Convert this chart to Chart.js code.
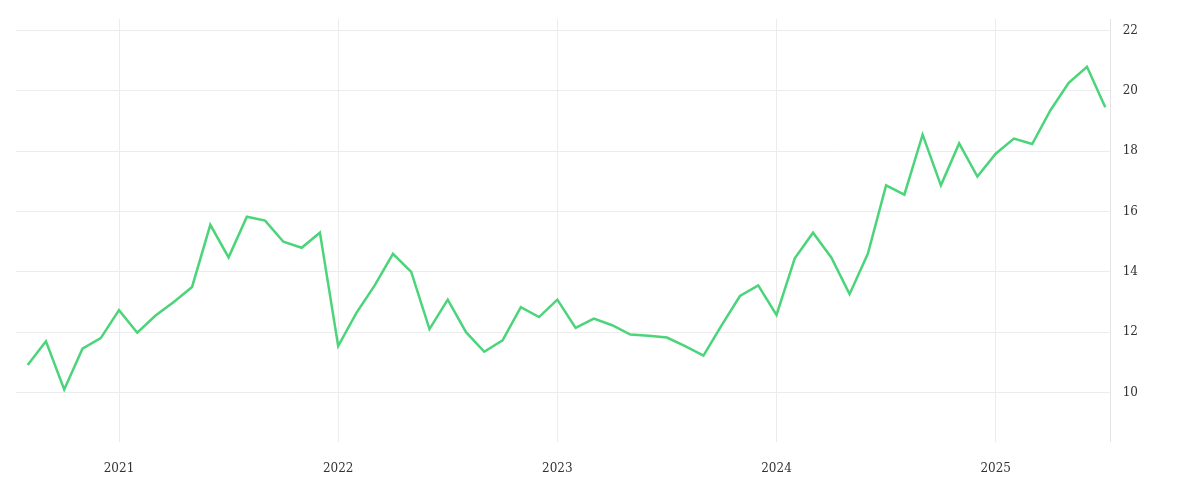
<!DOCTYPE html>
<html>
<head>
<meta charset="utf-8">
<script src="https://cdn.jsdelivr.net/npm/chart.js@4"></script>
<style>
  body { margin: 0; background: #fff; }
  #wrap { width: 1200px; height: 500px; }
</style>
</head>
<body>
<div id="wrap"><canvas id="trendChart"></canvas></div>
<script>
// months relative to Jan 2021 (0 = Jan 2021)
var months = [];
for (var m = -5; m <= 54; m++) months.push(m);
var values = [
  10.91, 11.7, 10.1, 11.45, 11.8,
  12.73, 11.98, 12.55, 13.0, 13.5, 15.56, 14.48, 15.83, 15.7, 15.0, 14.8, 15.3,
  11.54, 12.64, 13.55, 14.6, 14.0, 12.1, 13.08, 12.0, 11.35, 11.73, 12.83, 12.5,
  13.08, 12.14, 12.45, 12.23, 11.92, 11.88, 11.82, 11.54, 11.22, 12.23, 13.2, 13.55,
  12.57, 14.45, 15.3, 14.48, 13.26, 14.6, 16.87, 16.56, 18.55, 16.87, 18.26, 17.16,
  17.92, 18.42, 18.24, 19.36, 20.27, 20.8, 19.46
];
var yearTicks = [0, 12, 24, 36, 48];
var yearLabels = ['2021', '2022', '2023', '2024', '2025'];

var points = months.map(function(m, i) { return { x: m, y: values[i] }; });
var font = { family: 'DejaVu Serif', size: 12 };

new Chart(document.getElementById('trendChart'), {
    type: 'line',
    data: {
        datasets: [{
            data: points,
            borderColor: '#4cd47a',
            borderWidth: 2.5,
            pointRadius: 0,
            tension: 0,
            fill: false
        }]
    },
    options: {
        responsive: true,
        maintainAspectRatio: false,
        animation: false,
        layout: { padding: { left: 16, right: 50, top: 6, bottom: 4 } },
        plugins: { legend: { display: false }, tooltip: { enabled: false } },
        scales: {
            x: {
                type: 'linear',
                min: -5.64,
                max: 54.3,
                afterBuildTicks: function(axis) {
                    axis.ticks = yearTicks.map(function(v) { return { value: v }; });
                },
                ticks: {
                    autoSkip: false,
                    maxRotation: 0,
                    color: '#333',
                    font: font,
                    padding: 20,
                    callback: function(v) { return yearLabels[yearTicks.indexOf(v)]; }
                },
                grid: { color: '#ececec', drawTicks: false },
                border: { display: false }
            },
            y: {
                position: 'right',
                min: 8.37,
                max: 22.38,
                afterBuildTicks: function(axis) {
                    axis.ticks = [10, 12, 14, 16, 18, 20, 22].map(function(v) { return { value: v }; });
                },
                ticks: { color: '#333', font: font, padding: 12 },
                grid: { color: '#ececec', drawTicks: false },
                border: { display: true, color: '#e4e4e4' }
            }
        }
    }
});
</script>
</body>
</html>
